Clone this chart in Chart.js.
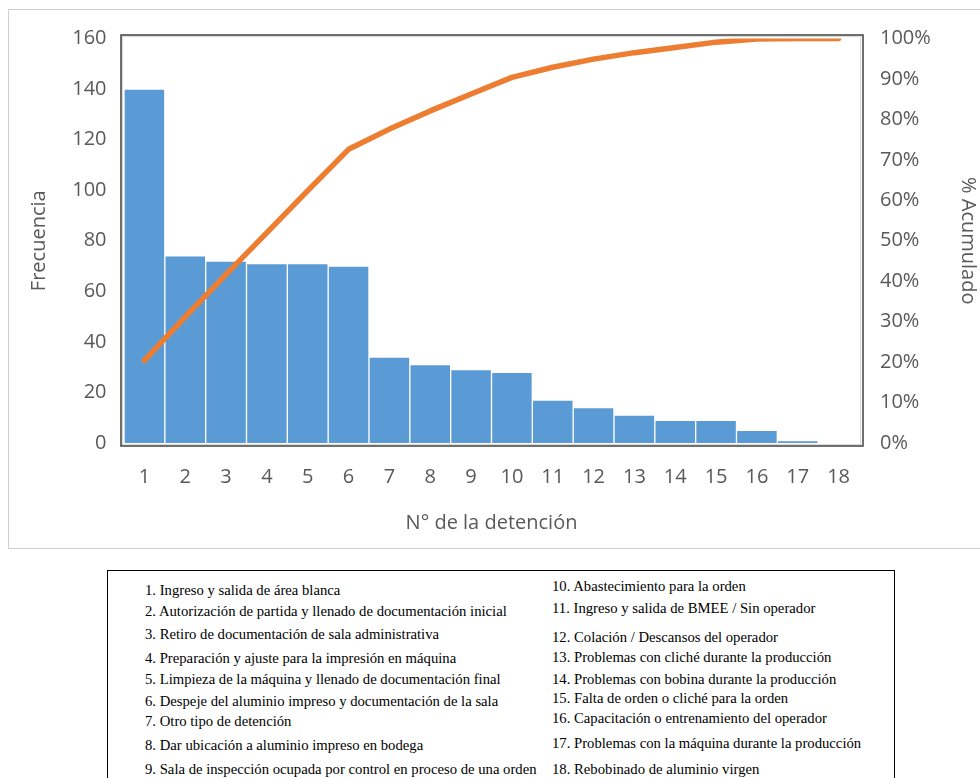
<!DOCTYPE html>
<html lang="es">
<head>
  <meta charset="UTF-8" />
  <title>Pareto de detenciones</title>
  <script src="https://cdn.jsdelivr.net/npm/chart.js"></script>
  <style>
    body { margin: 0; background: #fff; width: 980px; height: 778px; overflow: hidden; position: relative; }
    #frame { position: absolute; left: 8px; top: 9px; width: 990px; height: 540px; border: 1px solid #d0d0d0; box-sizing: border-box; }
    #chartBox { position: absolute; left: 0; top: 0; width: 980px; height: 550px; }
    #legend { position: absolute; left: 107px; top: 570px; width: 788px; height: 220px; border: 1px solid #000; box-sizing: border-box; }
    .item { position: absolute; font-family: "Liberation Serif", "Times New Roman", serif; font-size: 14.7px; color: #000; white-space: nowrap; line-height: 16px; }
  </style>
</head>
<body>

<div id="frame"></div>
<div id="chartBox"><canvas id="pareto" width="980" height="550"></canvas></div>
<div id="legend"></div>

<script>
// data
const categories = ['1','2','3','4','5','6','7','8','9','10','11','12','13','14','15','16','17','18'];
const frecuencia = [140, 74, 72, 71, 71, 70, 34, 31, 29, 28, 17, 14, 11, 9, 9, 5, 1, 0];
const acumulado = [20.4, 31.2, 41.7, 52.0, 62.4, 72.6, 77.6, 82.1, 86.3, 90.4, 92.9, 94.9, 96.5, 97.8, 99.1, 99.9, 100, 100];

const leftItems = [
  '1. Ingreso y salida de área blanca',
  '2. Autorización de partida y llenado de documentación inicial',
  '3. Retiro de documentación de sala administrativa',
  '4. Preparación y ajuste para la impresión en máquina',
  '5. Limpieza de la máquina y llenado de documentación final',
  '6. Despeje del aluminio impreso y documentación de la sala',
  '7. Otro tipo de detención',
  '8. Dar ubicación a aluminio impreso en bodega',
  '9. Sala de inspección ocupada por control en proceso de una orden'
];
const rightItems = [
  '10. Abastecimiento para la orden',
  '11. Ingreso y salida de BMEE / Sin operador',
  '12. Colación / Descansos del operador',
  '13. Problemas con cliché durante la producción',
  '14. Problemas con bobina durante la producción',
  '15. Falta de orden o cliché para la orden',
  '16. Capacitación o entrenamiento del operador',
  '17. Problemas con la máquina durante la producción',
  '18. Rebobinado de aluminio virgen'
];

// legend row centres (page y), the original spacing is uneven
const leftRowY = [590, 611, 634, 658, 679, 701, 721, 745, 769];
const rightRowY = [586, 608, 637, 657, 679, 698, 718, 743, 769];

const legendEl = document.getElementById('legend');
function addItems(list, rows, x) {
  list.forEach((txt, i) => {
    const d = document.createElement('div');
    d.className = 'item';
    d.textContent = txt;
    d.style.left = (x - 108) + 'px';
    d.style.top = (rows[i] - 8 - 571) + 'px';
    legendEl.appendChild(d);
  });
}
addItems(leftItems, leftRowY, 145);
addItems(rightItems, rightRowY, 552);

const grey = '#595959';
const tickFont = { family: "'Open Sans', sans-serif", size: 20 };

// dark frame round the plot, drawn a few px outside the chart area
const plotFrame = {
  id: 'plotFrame',
  afterDraw(chart) {
    const { ctx, chartArea: a } = chart;
    ctx.save();
    ctx.strokeStyle = '#d9d9d9';
    ctx.lineWidth = 1;
    ctx.strokeRect(a.left - 1.5, a.top - 2, a.right - a.left + 3, a.bottom - a.top + 3.5);
    ctx.strokeStyle = '#404040';
    ctx.lineWidth = 1.5;
    ctx.strokeRect(a.left - 3, a.top - 3.5, a.right - a.left + 7, a.bottom - a.top + 6.5);
    ctx.restore();
  }
};

new Chart(document.getElementById('pareto'), {
  type: 'bar',
  data: {
    labels: categories,
    datasets: [
      {
        type: 'line',
        label: '% Acumulado',
        data: acumulado,
        yAxisID: 'y1',
        borderColor: '#ED7D31',
        borderWidth: 5.5,
        borderCapStyle: 'round',
        borderJoinStyle: 'round',
        pointRadius: 0,
        tension: 0,
        order: 0
      },
      {
        label: 'Frecuencia',
        data: frecuencia,
        yAxisID: 'y',
        backgroundColor: '#5B9BD5',
        borderColor: 'rgba(255,255,255,0.45)',
        borderWidth: 1,
        categoryPercentage: 1,
        barPercentage: 1,
        order: 1
      }
    ]
  },
  options: {
    responsive: false,
    animation: false,
    layout: { padding: { top: 38.5, left: 0, right: 0, bottom: 0 } },
    plugins: { legend: { display: false }, tooltip: { enabled: false } },
    scales: {
      x: {
        grid: { display: false, drawTicks: false },
        border: { display: false },
        ticks: { color: grey, font: tickFont, padding: 22, maxRotation: 0 },
        title: { display: true, text: 'N° de la detención', color: grey, font: tickFont, padding: { top: 0, bottom: 15 } },
        afterFit: s => { s.height = 107; }
      },
      y: {
        position: 'left',
        min: 0, max: 160,
        grid: { display: false, drawTicks: false },
        border: { display: false },
        ticks: { stepSize: 20, color: grey, font: tickFont, padding: 17.5 },
        title: { display: true, text: 'Frecuencia', color: grey, font: tickFont, padding: { top: 27, bottom: 0 } },
        afterFit: s => { s.width = 124; }
      },
      y1: {
        position: 'right',
        min: 0, max: 100,
        grid: { display: false, drawTicks: false },
        border: { display: false },
        ticks: { stepSize: 10, color: grey, font: tickFont, padding: 21, callback: v => v + '%' },
        title: { display: true, text: '% Acumulado', color: grey, font: tickFont, padding: { top: 0, bottom: 0 } },
        afterFit: s => { s.width = 121; }
      }
    }
  },
  plugins: [plotFrame]
});
</script>
</body>
</html>
